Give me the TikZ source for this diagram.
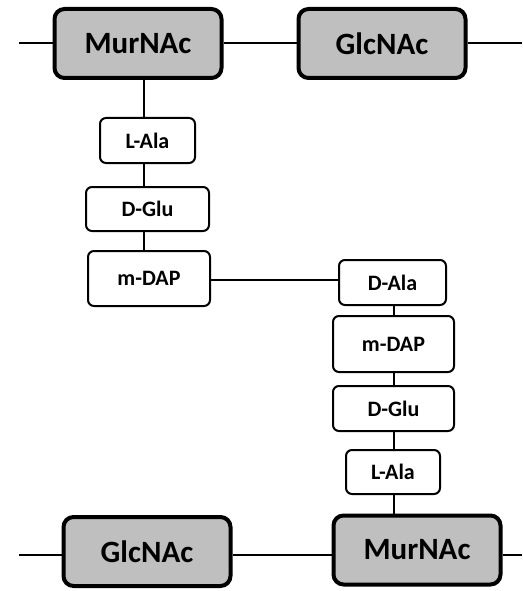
\documentclass[tikz,border=0pt]{standalone}
\usepackage{fontspec}
\setmainfont{Carlito}
\begin{document}
\begin{tikzpicture}[x=1pt,y=-1pt,
  sugar/.style={draw=black,line width=4pt,fill={rgb,255:red,191;green,191;blue,191},rounded corners=10pt,
    minimum width=167pt,minimum height=69pt,inner sep=0pt,font=\fontsize{31}{33}\selectfont\bfseries},
  pep/.style={draw=black,line width=2pt,fill=white,rounded corners=6pt,inner sep=0pt,
    font=\fontsize{22}{24}\selectfont\bfseries},
  link/.style={line width=2pt}]
\useasboundingbox (0,0) rectangle (522,591);
% sugars
\node[sugar] (mur1) at (138,43.5) {MurNAc};
\node[sugar] (glc1) at (382,43.5) {GlcNAc};
\node[sugar] (glc2) at (147,551.5) {GlcNAc};
\node[sugar] (mur2) at (417,550) {MurNAc};
% peptides top
\node[pep,minimum width=95pt,minimum height=45pt] (la1) at (147.5,140.5) {L-Ala};
\node[pep,minimum width=123pt,minimum height=44pt] (dg1) at (147.5,209) {D-Glu};
\node[pep,minimum width=122pt,minimum height=55pt] (md1) at (149,278.5) {m-DAP};
% peptides bottom
\node[pep,minimum width=107pt,minimum height=45pt] (da2) at (392.5,282.5) {D-Ala};
\node[pep,minimum width=121pt,minimum height=56pt] (md2) at (393.5,344) {m-DAP};
\node[pep,minimum width=121pt,minimum height=45pt] (dg2) at (393.5,408.5) {D-Glu};
\node[pep,minimum width=94pt,minimum height=44pt] (la2) at (393,472) {L-Ala};
% free ends
\coordinate (l1) at (19,43.5);
\coordinate (r1) at (522,43.5);
\coordinate (l2) at (19,555);
\coordinate (r2) at (522,555);
% glycan chains
\draw[link] (l1) -- (mur1.west);
\draw[link] (mur1.east) -- (glc1.west);
\draw[link] (glc1.east) -- (r1);
\draw[link] (l2) -- (glc2.west |- l2);
\draw[link] (glc2.east |- l2) -- (mur2.west |- l2);
\draw[link] (mur2.east |- l2) -- (r2);
% peptide stems
\draw[link] (mur1.south -| 144,0) -- (la1.north -| 144,0);
\draw[link] (la1.south -| 144,0) -- (dg1.north -| 144,0);
\draw[link] (dg1.south -| 144,0) -- (md1.north -| 144,0);
\draw[link] (md1.east |- 0,280) -- (da2.west |- 0,280);
\draw[link] (da2.south -| 394,0) -- (md2.north -| 394,0);
\draw[link] (md2.south -| 394,0) -- (dg2.north -| 394,0);
\draw[link] (dg2.south -| 394,0) -- (la2.north -| 394,0);
\draw[link] (la2.south -| 394,0) -- (mur2.north -| 394,0);
\end{tikzpicture}
\end{document}
